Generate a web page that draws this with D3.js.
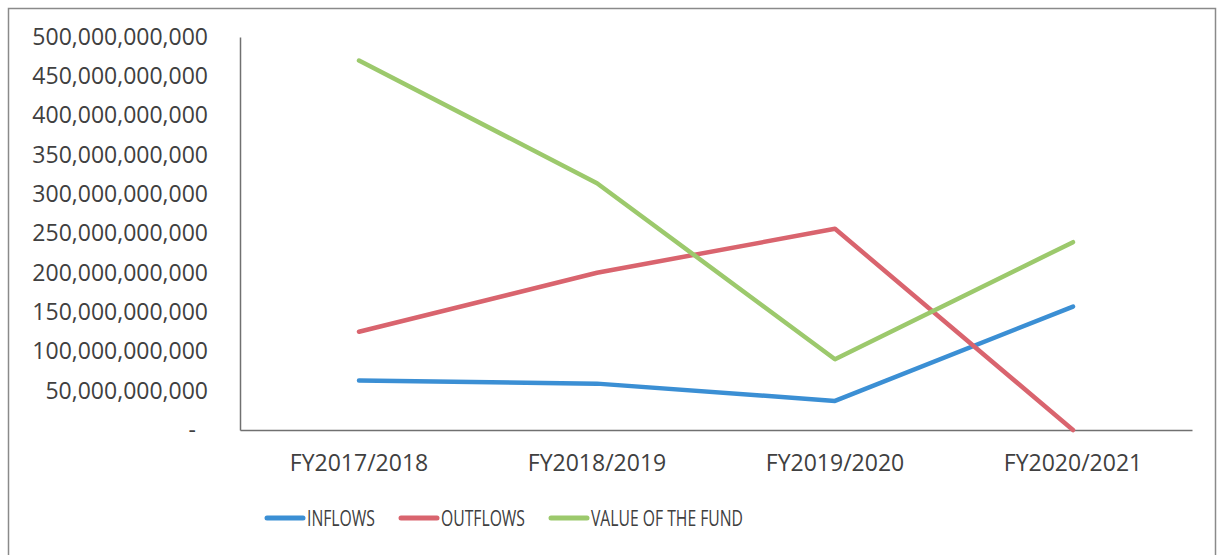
<!DOCTYPE html>
<html>
<head>
<script src="https://d3js.org/d3.v7.min.js"></script>
<style>
body { margin: 0; background: #fff; font-family: "Open Sans", sans-serif; }
</style>
</head>
<body>
<script>
// chart data
var categories = ["FY2017/2018", "FY2018/2019", "FY2019/2020", "FY2020/2021"];
var inflows = [63e9, 59e9, 37e9, 157e9];
var outflows = [125e9, 200e9, 256e9, 0];
var fundValue = [470e9, 314e9, 90e9, 239e9];
var seriesNames = ["INFLOWS", "OUTFLOWS", "VALUE OF THE FUND"];
var yTicks = [0, 50e9, 100e9, 150e9, 200e9, 250e9, 300e9, 350e9, 400e9, 450e9, 500e9];

var colors = ["#3b8fd4", "#d9646e", "#9cc96c"];
var series = [inflows, outflows, fundValue];

var w = 1217, h = 555;
var svg = d3.select("body").append("svg").attr("width", w).attr("height", h);

// outer frame
svg.append("rect")
	.attr("x", 8.5).attr("y", 8.5)
	.attr("width", 1207).attr("height", 560)
	.attr("fill", "none").attr("stroke", "#8a8a8a").attr("stroke-width", 1.5);

var x = d3.scaleBand().domain(categories).range([240, 1192]);
var y = d3.scaleLinear().domain([0, 500e9]).range([430, 37]);

var fmt = d3.format(",");

// y axis
var yAxis = svg.append("g").attr("transform", "translate(240,0)")
	.call(d3.axisLeft(y).tickValues(yTicks).tickSize(0).tickPadding(32)
		.tickFormat(function(d) { return d === 0 ? "-" : fmt(d); }));
yAxis.select(".domain").attr("stroke", "#707070").attr("stroke-width", 1.5);
yAxis.selectAll("text").attr("font-size", 23).attr("fill", "#404040")
	.attr("font-family", "Open Sans, sans-serif")
	.attr("dx", function(d) { return d === 0 ? -12 : 0; });

// x axis
var xAxis = svg.append("g").attr("transform", "translate(0,430)")
	.call(d3.axisBottom(x).tickSize(0).tickPadding(25));
xAxis.select(".domain").attr("stroke", "#707070").attr("stroke-width", 1.5);
xAxis.selectAll("text").attr("font-size", 23).attr("fill", "#404040")
	.attr("font-family", "Open Sans, sans-serif");

var line = d3.line()
	.x(function(d, i) { return x(categories[i]) + x.bandwidth() / 2; })
	.y(function(d) { return y(d); });

series.forEach(function(s, k) {
	svg.append("path")
		.datum(s)
		.attr("d", line)
		.attr("fill", "none")
		.attr("stroke", colors[k])
		.attr("stroke-width", 4.5)
		.attr("stroke-linejoin", "round")
		.attr("stroke-linecap", "round");
});

// legend (narrow lettering in the original)
var legendX = [267, 401, 551];
var legendW = [68, 84, 152];
var legend = svg.selectAll(".leg").data(seriesNames).enter().append("g")
	.attr("class", "leg")
	.attr("transform", function(d, i) { return "translate(" + legendX[i] + ",518)"; });
legend.append("line")
	.attr("x1", 0).attr("x2", 36).attr("y1", 0).attr("y2", 0)
	.attr("stroke", function(d, i) { return colors[i]; })
	.attr("stroke-width", 5).attr("stroke-linecap", "round");
legend.append("text")
	.attr("x", 40).attr("y", 0).attr("dy", "0.35em")
	.attr("font-size", 22).attr("fill", "#404040")
	.attr("font-family", "Open Sans, sans-serif")
	.attr("textLength", function(d, i) { return legendW[i]; })
	.attr("lengthAdjust", "spacingAndGlyphs")
	.text(function(d) { return d; });
</script>
</body>
</html>
